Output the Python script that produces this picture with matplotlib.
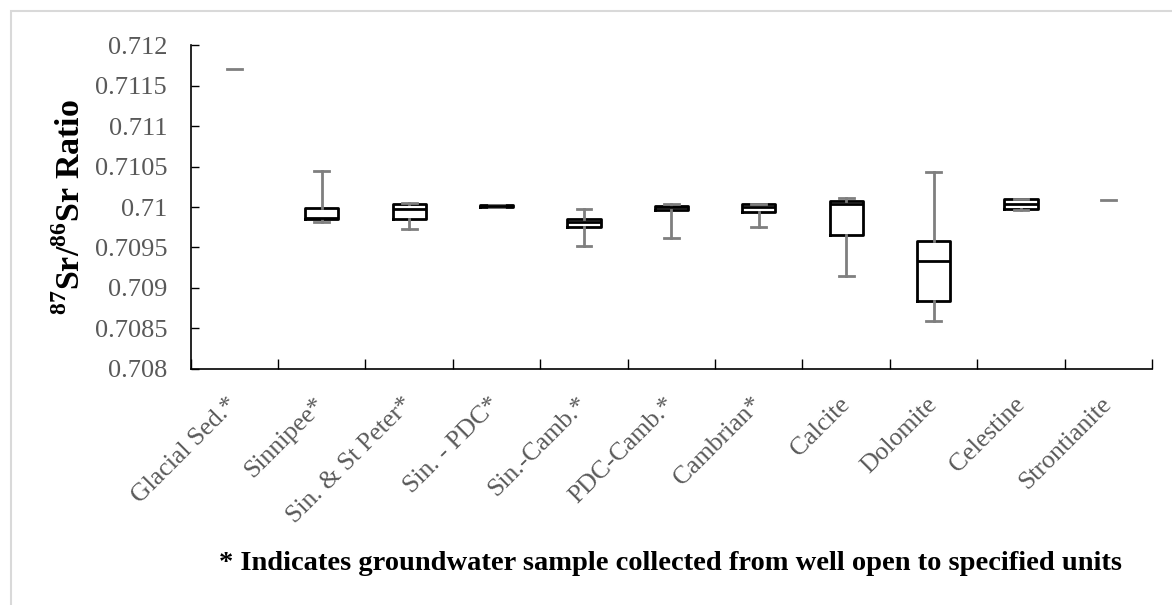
import numpy as np
import matplotlib.pyplot as plt
from matplotlib.patches import Rectangle

# Categories and box statistics
categories = ["Glacial Sed.*", "Sinnipee*", "Sin. & St Peter*", "Sin. - PDC*",
              "Sin.-Camb.*", "PDC-Camb.*", "Cambrian*", "Calcite", "Dolomite",
              "Celestine", "Strontianite"]
whisker_low = [0.71170, 0.709815, 0.709732, 0.710003, 0.709522, 0.709613,
               0.709753, 0.709148, 0.708597, 0.709959, 0.710086]
q1 = [0.71170, 0.709848, 0.709852, 0.710005, 0.709757, 0.709967,
      0.709935, 0.709650, 0.708843, 0.709975, 0.710086]
median = [0.71170, 0.709860, 0.709971, 0.710012, 0.709815, 0.709996,
          0.710004, 0.710037, 0.709333, 0.710033, 0.710086]
q3 = [0.71170, 0.709991, 0.710041, 0.710020, 0.709856, 0.710016,
      0.710033, 0.710074, 0.709580, 0.710095, 0.710086]
whisker_high = [0.71170, 0.710441, 0.710053, 0.710022, 0.709971, 0.710041,
                0.710037, 0.710107, 0.710428, 0.710103, 0.710086]

ytick_values = [0.708, 0.7085, 0.709, 0.7095, 0.71, 0.7105, 0.711, 0.7115, 0.712]
ytick_labels = ["0.708", "0.7085", "0.709", "0.7095", "0.71", "0.7105",
                "0.711", "0.7115", "0.712"]

plt.rcParams['font.family'] = ['Liberation Serif', 'DejaVu Serif']
plt.rcParams['mathtext.fontset'] = 'custom'
plt.rcParams['mathtext.rm'] = 'Liberation Serif:bold'
plt.rcParams['mathtext.bf'] = 'Liberation Serif:bold'

grey = '#7f7f7f'
text_grey = '#595959'

fig = plt.figure(figsize=(11.72, 6.05), dpi=100)
ax = fig.add_axes([0.1627, 0.3901, 0.8203, 0.5355])

# light grey frame around the chart area
fig.patches.append(Rectangle((11 / 1172, -0.05), 1.2, 1 - 11 / 605 + 0.05,
                             transform=fig.transFigure, fill=False,
                             edgecolor='#d9d9d9', linewidth=1.5))

stats = []
for i in range(len(categories)):
    stats.append({'whislo': whisker_low[i], 'q1': q1[i], 'med': median[i],
                  'q3': q3[i], 'whishi': whisker_high[i]})

positions = np.arange(len(categories))
bp = ax.bxp(stats, positions=positions, widths=0.38, showfliers=False,
            patch_artist=False,
            boxprops=dict(color='black', linewidth=2),
            medianprops=dict(color='black', linewidth=2),
            whiskerprops=dict(color=grey, linewidth=2),
            capprops=dict(color=grey, linewidth=2),
            capwidths=0.17)

# single value samples: only show the grey line
for i in range(len(categories)):
    if whisker_low[i] == whisker_high[i]:
        bp['boxes'][i].set_visible(False)
        bp['medians'][i].set_visible(False)
        bp['whiskers'][2 * i].set_visible(False)
        bp['whiskers'][2 * i + 1].set_visible(False)
        bp['caps'][2 * i + 1].set_visible(False)

ax.set_xlim(-0.5, len(categories) - 0.5)
ax.set_ylim(0.708, 0.712)
ax.set_yticks(ytick_values)
ax.set_yticklabels(ytick_labels, fontsize=19, color=text_grey)
ax.tick_params(axis='y', direction='in', length=6, width=1, color='black', pad=17)

ax.set_xticks(positions)
ax.set_xticklabels(categories, rotation=45, ha='right', va='center',
                   rotation_mode='anchor', fontsize=18.5, color=text_grey)
ax.tick_params(axis='x', which='major', length=0, pad=23)
ax.set_xticks(np.arange(len(categories) + 1) - 0.5, minor=True)
ax.tick_params(axis='x', which='minor', direction='in', length=7, width=1,
               color='black')

for side in ['top', 'right']:
    ax.spines[side].set_visible(False)
for side in ['left', 'bottom']:
    ax.spines[side].set_linewidth(1.2)

fig.text(0.06, 0.658, r'$^{87}$Sr/$^{86}$Sr Ratio', rotation=90,
         ha='center', va='center', fontsize=24.5, fontweight='bold')

fig.text(0.5725, 0.0694,
         '* Indicates groundwater sample collected from well open to specified units',
         ha='center', va='center', fontsize=20.5, fontweight='bold')

fig.savefig('out.png', dpi=100)
